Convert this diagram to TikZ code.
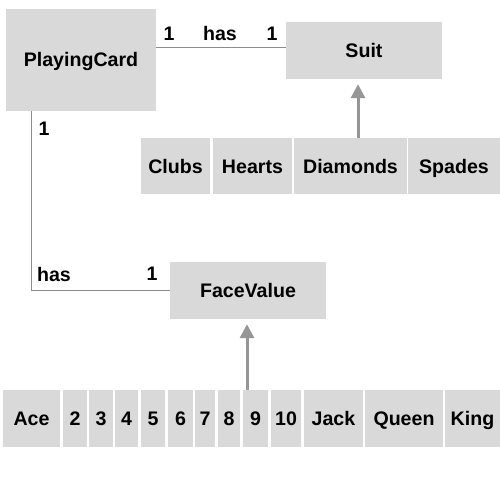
\documentclass[tikz,border=0pt]{standalone}
\usepackage{fontspec}
\setmainfont{Liberation Sans}
\usetikzlibrary{arrows.meta,calc}
\definecolor{boxgray}{RGB}{217,217,217}
\definecolor{linegray}{RGB}{140,140,140}
\definecolor{arrgray}{RGB}{150,150,150}
\begin{document}
\begin{tikzpicture}[x=1pt,y=-1pt,
  box/.style={fill=boxgray, draw=none, inner sep=0pt, text=black,
    text height=14pt, text depth=0pt,
    font=\bfseries\fontsize{19.6}{23}\selectfont},
  lbl/.style={inner sep=0pt, text=black, font=\bfseries\fontsize{19.6}{23}\selectfont},
  assoc/.style={draw=linegray, line width=1pt},
  inh/.style={draw=arrgray, line width=3pt, shorten >=5pt,
    -{Triangle[width=14pt,length=14pt]}}]
\useasboundingbox (0,0) rectangle (500,500);
% main classes
\node[box, minimum width=150pt, minimum height=102pt] (pc) at (81,60) {PlayingCard};
\node[box, minimum width=156pt, minimum height=57pt] (suit) at (364,50.5) {Suit};
\node[box, minimum width=156pt, minimum height=57pt] (fv) at (248,290.5) {FaceValue};
% suits
\node[box, minimum width=69pt, minimum height=56pt] (clubs) at (175.5,166) {Clubs};
\node[box, minimum width=79pt, minimum height=56pt] (hearts) at (252.5,166) {Hearts};
\node[box, minimum width=113pt, minimum height=56pt] (diamonds) at (350.5,166) {Diamonds};
\node[box, minimum width=92pt, minimum height=56pt] (spades) at (454,166) {Spades};
% face values
\node[box, minimum width=57pt, minimum height=57pt] (ace) at (31.5,418.5) {Ace};
\node[box, minimum width=24pt, minimum height=57pt] (v2) at (75,418.5) {2};
\node[box, minimum width=24pt, minimum height=57pt] (v3) at (101,418.5) {3};
\node[box, minimum width=23pt, minimum height=57pt] (v4) at (126.5,418.5) {4};
\node[box, minimum width=24pt, minimum height=57pt] (v5) at (153,418.5) {5};
\node[box, minimum width=25pt, minimum height=57pt] (v6) at (180.5,418.5) {6};
\node[box, minimum width=20pt, minimum height=57pt] (v7) at (205,418.5) {7};
\node[box, minimum width=22pt, minimum height=57pt] (v8) at (229,418.5) {8};
\node[box, minimum width=25pt, minimum height=57pt] (v9) at (255.5,418.5) {9};
\node[box, minimum width=30pt, minimum height=57pt] (v10) at (286,418.5) {10};
\node[box, minimum width=59pt, minimum height=57pt] (jack) at (333.5,418.5) {Jack};
\node[box, minimum width=78pt, minimum height=57pt] (queen) at (404,418.5) {Queen};
\node[box, minimum width=55pt, minimum height=57pt] (king) at (472.5,418.5) {King};
% associations
\coordinate (pcR) at ($(pc.north east)!0.38!(pc.south east)$);
\draw[assoc] (pcR) -- (pcR -| suit.west);
\coordinate (pcB) at ($(pc.south west)!0.173!(pc.south east)$);
\draw[assoc] (pcB) |- (fv.west);
% inheritance arrows
\draw[inh] ([xshift=7.5pt]diamonds.north) -- ([xshift=7.5pt]diamonds.north |- suit.south);
\draw[inh] ([xshift=-8.5pt]v9.north) -- ([xshift=-8.5pt]v9.north |- fv.south);
% labels
\node[lbl] (m1) at (169,33.5) {1};
\node[lbl] (h1) at (220,33.5) {has};
\node[lbl] (m2) at (272,33.5) {1};
\node[lbl] (m3) at (44,129) {1};
\node[lbl] (h2) at (54,274) {has};
\node[lbl] (m4) at (152,274) {1};
\end{tikzpicture}
\end{document}
